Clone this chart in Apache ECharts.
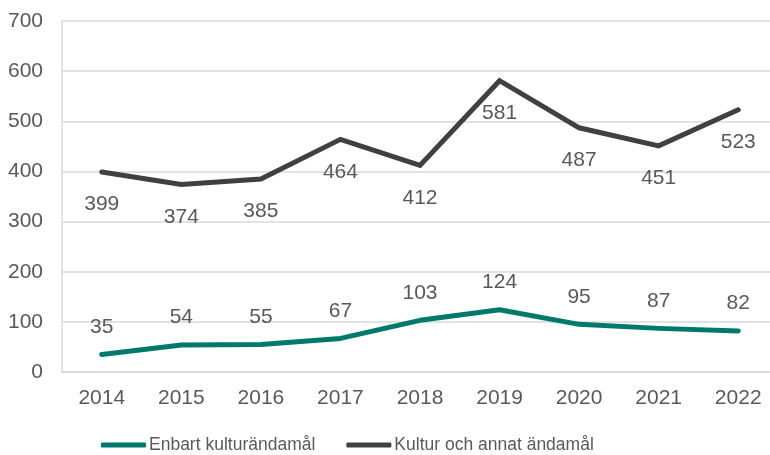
<!DOCTYPE html>
<html><head><meta charset="utf-8">
<script src="https://cdn.jsdelivr.net/npm/echarts@6/dist/echarts.min.js"></script>
<style>html,body{margin:0;padding:0;background:#fff;overflow:hidden}#c{width:790px;height:455px}</style>
</head><body><div id="c"></div>
<script>
const years = ['2014','2015','2016','2017','2018','2019','2020','2021','2022'];
const enbart = [35, 54, 55, 67, 103, 124, 95, 87, 82];
const kulturAnnat = [399, 374, 385, 464, 412, 581, 487, 451, 523];
const seriesNames = ['Enbart kulturändamål', 'Kultur och annat ändamål'];
const yTicks = [0, 100, 200, 300, 400, 500, 600, 700];

const txt = '#595959';
const font = 'Liberation Sans, Arial, sans-serif';
const fs = 21;
const chart = echarts.init(document.getElementById('c'), null, {renderer: 'canvas'});
chart.setOption({
  animation: false,
  textStyle: {fontFamily: font},
  grid: {left: 62, top: 21, bottom: 83, width: 716, containLabel: false},
  legend: {
    top: 431, left: 96,
    itemWidth: 45, itemHeight: 5, itemGap: 31,
    icon: 'roundRect',
    textStyle: {color: txt, fontSize: 17.5, fontFamily: font, padding: [0,0,0,-2]},
    data: seriesNames
  },
  xAxis: {
    type: 'category', data: years, boundaryGap: true,
    axisLine: {lineStyle: {color: '#d9d9d9', width: 1.5}},
    axisTick: {show: false},
    axisLabel: {color: txt, fontSize: fs, margin: 16, fontFamily: font}
  },
  yAxis: {
    type: 'value', min: yTicks[0], max: yTicks[yTicks.length-1], interval: 100,
    axisLine: {show: true, lineStyle: {color: '#d9d9d9', width: 1.5}},
    axisTick: {show: false},
    splitLine: {lineStyle: {color: '#d9d9d9', width: 1.5}},
    axisLabel: {color: txt, fontSize: fs, margin: 19, fontFamily: font}
  },
  series: [
    {
      name: seriesNames[0], type: 'line', data: enbart,
      symbol: 'circle', symbolSize: 0, showSymbol: true, color: '#00796c',
      lineStyle: {width: 5, cap: 'round', join: 'round'},
      label: {show: true, position: 'top', distance: 17, color: txt, fontSize: fs, fontFamily: font}
    },
    {
      name: seriesNames[1], type: 'line', data: kulturAnnat,
      symbol: 'circle', symbolSize: 0, showSymbol: true, color: '#404040',
      lineStyle: {width: 5, cap: 'round', join: 'miter'},
      label: {show: true, position: 'bottom', distance: 22, color: txt, fontSize: fs, fontFamily: font}
    }
  ]
});
</script></body></html>
